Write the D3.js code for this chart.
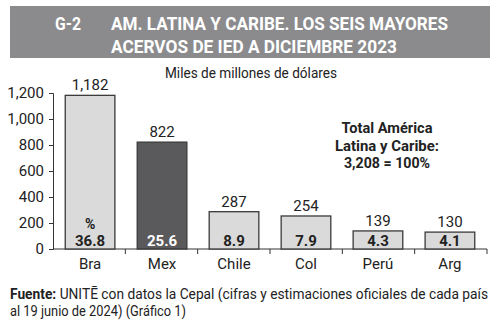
<!DOCTYPE html>
<html>
<head>
<meta charset="utf-8">
<script src="https://cdn.jsdelivr.net/npm/d3@7"></script>
<style>
  html, body { margin: 0; padding: 0; background: #fff; }
  svg text { font-family: "Roboto", "Noto Sans", sans-serif; }
</style>
</head>
<body>
<svg id="chart" width="500" height="331"></svg>
<script>
// Stock of FDI, six largest economies in Latin America and the Caribbean (Dec 2023)
const countries = ["Bra", "Mex", "Chile", "Col", "Perú", "Arg"];
const stocks = [1182, 822, 287, 254, 139, 130];
const shares = [36.8, 25.6, 8.9, 7.9, 4.3, 4.1];
const yTicks = [0, 200, 400, 600, 800, 1000, 1200];
const highlight = "Mex";

const svg = d3.select("#chart");

// Squeeze a text to a set width for a condensed look
const fit = (sel, w) => sel.attr("textLength", w).attr("lengthAdjust", "spacingAndGlyphs");

// Header band
svg.append("rect").attr("x", 10).attr("y", 6).attr("width", 480).attr("height", 52)
  .attr("fill", "#8b8b8d");
const head = svg.append("g").attr("fill", "#fff").attr("font-weight", "bold").attr("font-size", 18.5);
fit(head.append("text").attr("x", 55).attr("y", 30).text("G-2"), 26);
fit(head.append("text").attr("x", 111).attr("y", 30).text("AM. LATINA Y CARIBE. LOS SEIS MAYORES"), 337);
fit(head.append("text").attr("x", 111).attr("y", 52.5).text("ACERVOS DE IED A DICIEMBRE 2023"), 286);

// Units
fit(svg.append("text").attr("x", 165).attr("y", 78)
  .attr("font-size", 14).attr("fill", "#222").text("Miles de millones de dólares"), 172);

const x = d3.scaleBand().domain(countries).range([53, 487]).paddingInner(0.31).paddingOuter(0.17);
const y = d3.scaleLinear().domain([0, 1200]).range([249, 93]);

// Y axis
const yAxis = svg.append("g").attr("transform", "translate(53,0)")
  .call(d3.axisLeft(y).tickValues(yTicks).tickFormat(d3.format(",")).tickSize(4).tickPadding(5));
yAxis.select(".domain").attr("stroke", "#333");
yAxis.selectAll(".tick line").attr("stroke", "#333");
yAxis.selectAll(".tick text").attr("font-size", 15).attr("fill", "#222")
  .style("font-family", '"Roboto", sans-serif');

// X axis baseline with separators between categories
const bounds = d3.range(countries.length + 1).map(i => 53 + i * (434 / countries.length));
svg.append("line").attr("x1", 53).attr("x2", 487).attr("y1", 249).attr("y2", 249)
  .attr("stroke", "#333").attr("stroke-width", 1);
svg.selectAll("line.sep").data(bounds.slice(1)).join("line").attr("class", "sep")
  .attr("x1", d => d).attr("x2", d => d).attr("y1", 249).attr("y2", 254)
  .attr("stroke", "#333");

// Bars
svg.selectAll("rect.bar").data(countries).join("rect").attr("class", "bar")
  .attr("x", d => x(d)).attr("width", x.bandwidth())
  .attr("y", (d, i) => y(stocks[i])).attr("height", (d, i) => y(0) - y(stocks[i]))
  .attr("fill", d => d === highlight ? "#5a5a5c" : "#dadada")
  .attr("stroke", "#3a3a3a").attr("stroke-width", 1.3);

// Values above bars
svg.selectAll("text.val").data(countries).join("text").attr("class", "val")
  .attr("x", d => x(d) + x.bandwidth() / 2).attr("y", (d, i) => y(stocks[i]) - 5)
  .attr("text-anchor", "middle").attr("font-size", 15).attr("fill", "#222")
  .text((d, i) => d3.format(",")(stocks[i]));

// Shares inside bars
svg.selectAll("text.pct").data(countries).join("text").attr("class", "pct")
  .attr("x", d => x(d) + x.bandwidth() / 2).attr("y", 246)
  .attr("text-anchor", "middle").attr("font-size", 15).attr("font-weight", "bold")
  .attr("fill", d => d === highlight ? "#fff" : "#222")
  .text((d, i) => shares[i].toFixed(1));
svg.append("text").attr("x", x("Bra") + x.bandwidth() / 2).attr("y", 229)
  .attr("text-anchor", "middle").attr("font-size", 14).attr("font-weight", "bold")
  .attr("fill", "#222").text("%");

// Category labels
svg.selectAll("text.cat").data(countries).join("text").attr("class", "cat")
  .attr("x", d => x(d) + x.bandwidth() / 2).attr("y", 269)
  .attr("text-anchor", "middle").attr("font-size", 15).attr("fill", "#222")
  .text(d => d);

// Total note
const note = svg.append("g").attr("font-size", 15).attr("font-weight", "bold").attr("fill", "#222");
const noteLines = ["Total América", "Latina y Caribe:", "3,208 = 100%"];
const noteWidths = [91, 104, 86];
noteLines.forEach((t, i) =>
  fit(note.append("text").attr("x", 387 - noteWidths[i] / 2).attr("y", 133 + i * 17.5).text(t), noteWidths[i]));

// Source
const src = svg.append("g").attr("font-size", 14).attr("fill", "#222");
const l1 = fit(src.append("text").attr("x", 10).attr("y", 299), 478);
l1.append("tspan").attr("font-weight", "bold").text("Fuente:");
l1.append("tspan").text(" UNITĒ con datos la Cepal (cifras y estimaciones oficiales de cada país");
fit(src.append("text").attr("x", 10).attr("y", 316).text("al 19 junio de 2024) (Gráfico 1)"), 176);
</script>
</body>
</html>
